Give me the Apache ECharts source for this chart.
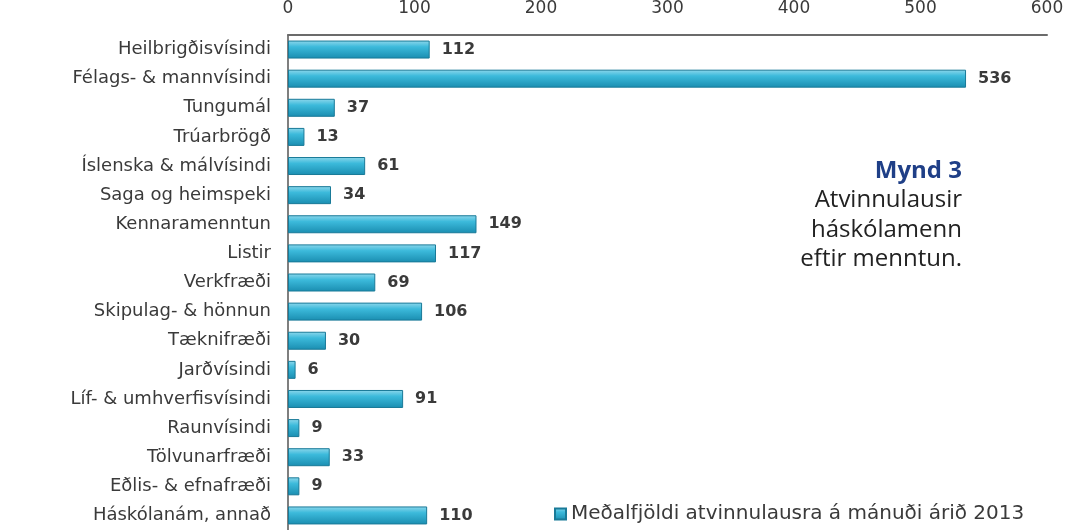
<!DOCTYPE html>
<html><head><meta charset="utf-8">
<script src="https://cdn.jsdelivr.net/npm/echarts@6/dist/echarts.min.js"></script>
<style>html,body{margin:0;padding:0;background:#fff}#c{width:1077px;height:530px}</style>
</head><body><div id="c"></div>
<script>
const categories = ["Heilbrigðisvísindi","Félags- & mannvísindi","Tungumál","Trúarbrögð","Íslenska & málvísindi","Saga og heimspeki","Kennaramenntun","Listir","Verkfræði","Skipulag- & hönnun","Tæknifræði","Jarðvísindi","Líf- & umhverfisvísindi","Raunvísindi","Tölvunarfræði","Eðlis- & efnafræði","Háskólanám, annað"];
const values = [112,536,37,13,61,34,149,117,69,106,30,6,91,9,33,9,110];
const seriesName = "Meðalfjöldi atvinnulausra á mánuði árið 2013";
const xTicks = [0,100,200,300,400,500,600];
const titleLines = ["Mynd 3","Atvinnulausir","háskólamenn","eftir menntun."];

const chart = echarts.init(document.getElementById('c'));
const barGrad = new echarts.graphic.LinearGradient(0,0,0,1,[
  {offset:0,color:'#8fd8ec'},{offset:0.35,color:'#3cbadb'},{offset:1,color:'#1a8db0'}]);
chart.setOption({
  animation:false,
  textStyle:{fontFamily:'DejaVu Sans'},
  grid:{left:288,right:30,top:33,height:498,containLabel:false},
  legend:{data:[seriesName],left:549,top:499,itemWidth:11,itemHeight:11,icon:'rect',itemGap:5,
    textStyle:{fontSize:20,color:'#3a3a3a',fontFamily:'DejaVu Sans'}},
  xAxis:{type:'value',position:'top',min:xTicks[0],max:xTicks[xTicks.length-1],interval:100,
    axisLine:{show:true,lineStyle:{color:'#6b6b6b',width:2}},
    axisTick:{show:false},splitLine:{show:false},
    axisLabel:{color:'#3a3a3a',fontSize:17,margin:18,fontFamily:'DejaVu Sans'}},
  yAxis:{type:'category',inverse:true,data:categories,
    axisLine:{show:true,lineStyle:{color:'#555',width:1.5}},
    axisTick:{show:false},
    axisLabel:{color:'#3a3a3a',fontSize:18,margin:17,fontFamily:'DejaVu Sans'}},
  series:[{name:seriesName,type:'bar',data:values,barWidth:18,
    itemStyle:{color:barGrad,borderColor:'#197a98',borderWidth:1},
    label:{show:true,position:'right',distance:12,color:'#3a3a3a',fontSize:16,fontWeight:'bold',fontFamily:'DejaVu Sans'}}],
  graphic:titleLines.map((t,i)=>({type:'text',right:115,top:159+i*29.5,
    style:{text:t,font:(i===0?'bold ':'')+'24px "Open Sans"',fill:i===0?'#1f3f87':'#222',textAlign:'right'}}))
});
</script></body></html>
